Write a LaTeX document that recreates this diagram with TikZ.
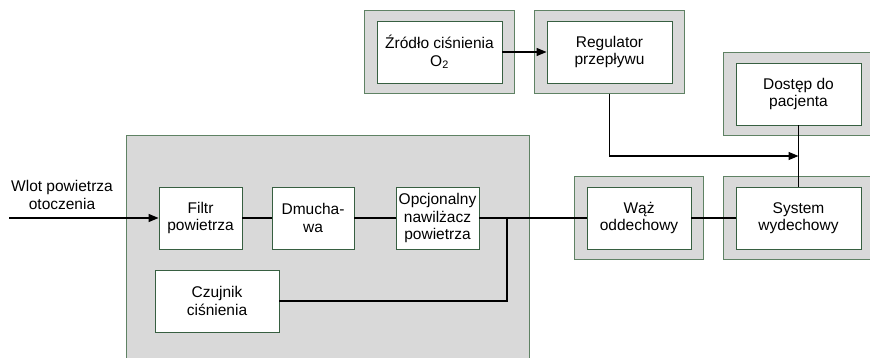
\documentclass[tikz,border=0pt]{standalone}
\usepackage{fontspec}
\setmainfont{Liberation Sans}
\usetikzlibrary{arrows.meta, positioning, fit, backgrounds}
\definecolor{framegreen}{RGB}{55,95,65}
\definecolor{edgegreen}{RGB}{95,130,100}
\definecolor{panelgray}{RGB}{217,217,217}

\begin{document}
\begin{tikzpicture}[
  x=1pt, y=-1pt,
  unit/.style={draw=framegreen, fill=white, line width=0.9pt,
               minimum width=125pt, minimum height=62pt, inner sep=1pt,
               align=center, font=\fontsize{15.5}{17.5}\selectfont},
  frame/.style={draw=edgegreen, fill=panelgray, line width=1pt,
                inner xsep=12.5pt, inner ysep=10pt},
  housing/.style={draw=edgegreen, fill=panelgray, line width=1pt,
                  anchor=north west, inner sep=0pt},
  pipe/.style={line width=1.3pt, black},
  arrow/.style={pipe, -{Triangle[length=10pt,width=8pt]}},
  label/.style={align=center, font=\fontsize{15.5}{17.5}\selectfont},
]
\useasboundingbox (0,0) rectangle (870,358);

% obudowa respiratora
\node[housing, minimum width=403pt, minimum height=226pt] (housing) at (126,135) {};

\node[unit, minimum width=83pt]  (filtr) at (200.5,218) {Filtr\\powietrza};
\node[unit, minimum width=82pt]  (dmuch) at (313,218)   {Dmucha-\\wa};
\node[unit, minimum width=83pt]  (nawil) at (437.5,218) {Opcjonalny\\nawilżacz\\powietrza};
\node[unit, minimum width=124pt] (czuj)  at (217,301)   {Czujnik\\ciśnienia};

\node[unit, minimum width=104pt] (waz)    at (639,218)   {Wąż\\oddechowy};
\node[unit]                      (system) at (798.5,218) {System\\wydechowy};
\node[unit]                      (dostep) at (798.5,94)  {Dostęp do\\pacjenta};
\node[unit]                      (zrodlo) at (439.5,52)  {Źródło ciśnienia\\O\textsubscript{2}};
\node[unit]                      (regul)  at (609.5,52)  {Regulator\\przepływu};

\begin{scope}[on background layer]
  \node[frame, fit=(waz)]    (wazfr) {};
  \node[frame, fit=(system)] (sysfr) {};
  \node[frame, fit=(dostep)] (dosfr) {};
  \node[frame, fit=(zrodlo)] (zrdfr) {};
  \node[frame, fit=(regul)]  (regfr) {};
\end{scope}

\coordinate (inlet) at (9,218);
\coordinate (tee)   at (507,218);
\coordinate (merge) at (798.5,156);

\node[label] (inletlbl) at (62,195) {Wlot powietrza\\otoczenia};

\draw[arrow] (inlet) -- (filtr);
\draw[pipe] (filtr) -- (dmuch);
\draw[pipe] (dmuch) -- (nawil);
\draw[pipe] (nawil) -- (waz);
\draw[pipe] (czuj.east) -| (tee);
\draw[pipe] (waz) -- (system);
\draw[pipe] (dostep) -- (system);
\draw[arrow] (zrodlo) -- (regul);
\draw[arrow] (regfr.south) |- (merge);

\end{tikzpicture}
\end{document}
